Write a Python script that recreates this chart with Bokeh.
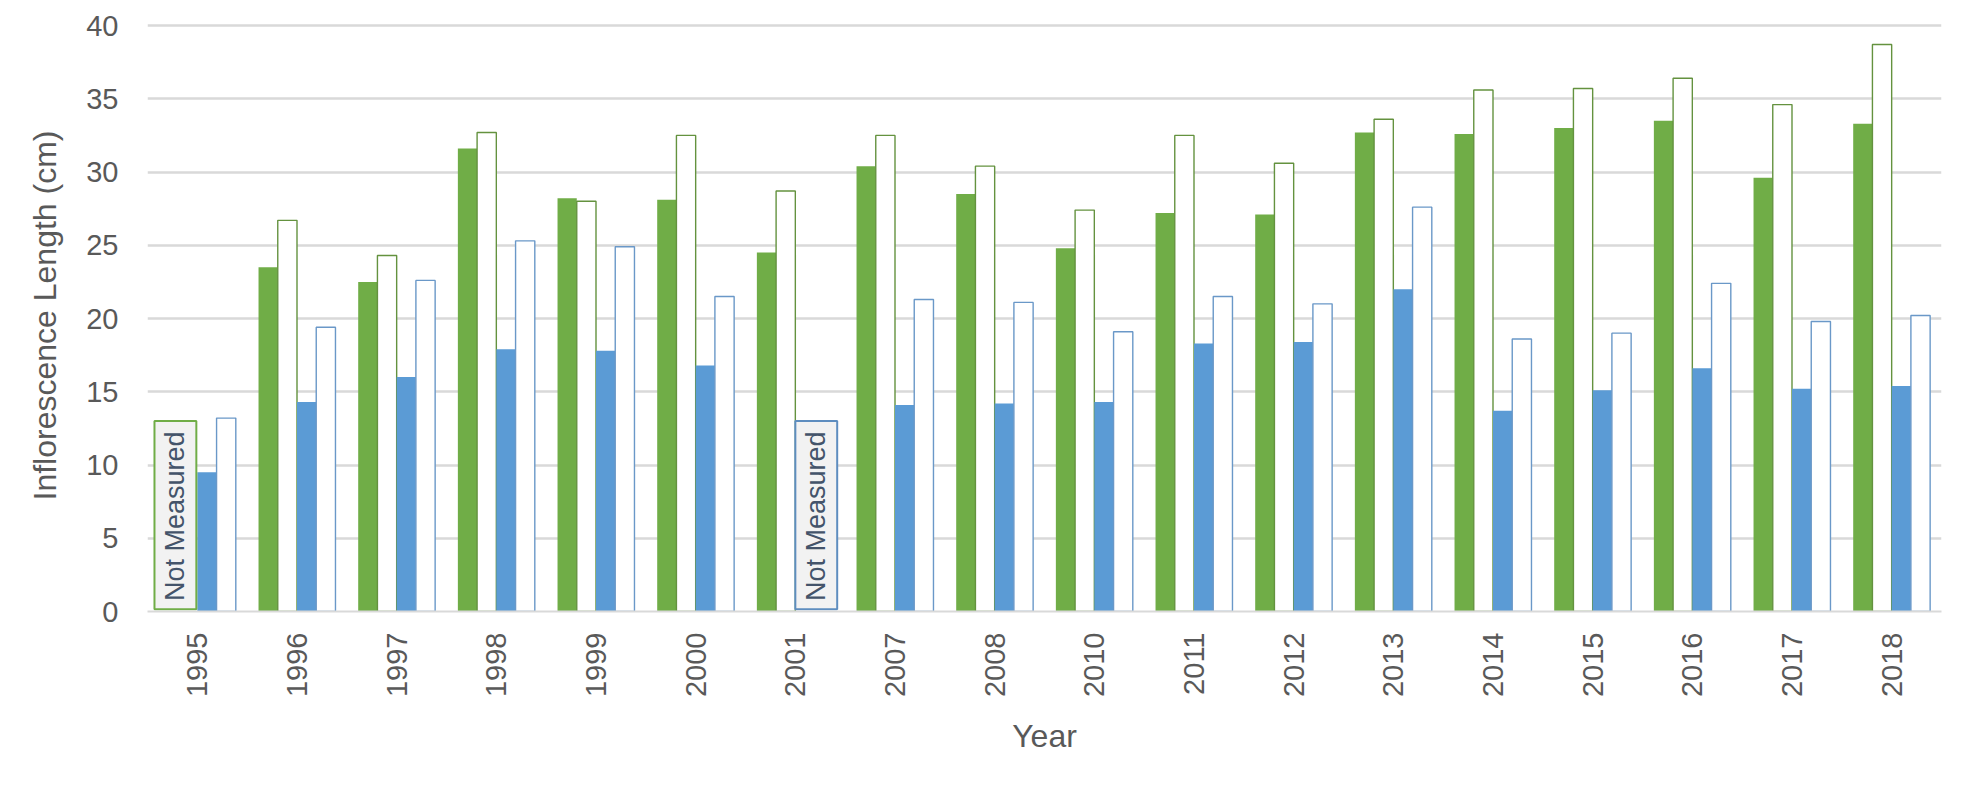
import math
from bokeh.plotting import figure
from bokeh.models import ColumnDataSource, FactorRange, Range1d, FixedTicker
from bokeh.transform import dodge
from bokeh.core.properties import value
from bokeh.embed import file_html
from bokeh.resources import INLINE

# ---- data ----
years = ["1995", "1996", "1997", "1998", "1999", "2000", "2001", "2007", "2008",
         "2010", "2011", "2012", "2013", "2014", "2015", "2016", "2017", "2018"]
green_filled = [None, 23.5, 22.5, 31.6, 28.2, 28.1, 24.5, 30.4, 28.5,
                24.8, 27.2, 27.1, 32.7, 32.6, 33.0, 33.5, 29.6, 33.3]
green_open = [None, 26.7, 24.3, 32.7, 28.0, 32.5, 28.7, 32.5, 30.4,
              27.4, 32.5, 30.6, 33.6, 35.6, 35.7, 36.4, 34.6, 38.7]
blue_filled = [9.5, 14.3, 16.0, 17.9, 17.8, 16.8, None, 14.1, 14.2,
               14.3, 18.3, 18.4, 22.0, 13.7, 15.1, 16.6, 15.2, 15.4]
blue_open = [13.2, 19.4, 22.6, 25.3, 24.9, 21.5, None, 21.3, 21.1,
             19.1, 21.5, 21.0, 27.6, 18.6, 19.0, 22.4, 19.8, 20.2]
y_ticks = [0, 5, 10, 15, 20, 25, 30, 35, 40]
not_measured_green_years = ["1995"]
not_measured_blue_years = ["2001"]
not_measured_text = "Not Measured"

GREEN = "#70AD47"
BLUE = "#5B9BD5"
TEXT = "#595959"
GRID = "#D9D9D9"
FONT = "Liberation Sans"


def src(vals):
    xs = [y for y, v in zip(years, vals) if v is not None]
    ts = [v for v in vals if v is not None]
    return ColumnDataSource(dict(year=xs, top=ts))


p = figure(
    x_range=FactorRange(*years, range_padding=0),
    y_range=Range1d(0, 40.41),
    width=1946, height=785,
    min_border_left=147, min_border_right=5,
    min_border_top=19, min_border_bottom=174,
    output_backend="svg", toolbar_location=None,
)
p.outline_line_color = None
p.background_fill_color = "white"

w = 0.193
offs = [-1.5 * w, -0.5 * w, 0.5 * w, 1.5 * w]

p.vbar(x=dodge("year", offs[0], range=p.x_range), top="top", width=w,
       source=src(green_filled), fill_color=GREEN, line_color=None)
p.vbar(x=dodge("year", offs[1], range=p.x_range), top="top", width=w,
       source=src(green_open), fill_color="white", line_color="#64923F", line_width=1.4)
p.vbar(x=dodge("year", offs[2], range=p.x_range), top="top", width=w,
       source=src(blue_filled), fill_color=BLUE, line_color=None)
p.vbar(x=dodge("year", offs[3], range=p.x_range), top="top", width=w,
       source=src(blue_open), fill_color="white", line_color="#6A98C8", line_width=1.4)

# "Not Measured" boxes
box_w = 0.42
box_top = 13.0
gsrc = ColumnDataSource(dict(year=not_measured_green_years,
                             label=[not_measured_text] * len(not_measured_green_years)))
bsrc = ColumnDataSource(dict(year=not_measured_blue_years,
                             label=[not_measured_text] * len(not_measured_blue_years)))
p.vbar(x=dodge("year", -box_w / 2 - 0.01, range=p.x_range), top=box_top, bottom=0.15,
       width=box_w, source=gsrc, fill_color="#F2F2F2", line_color=GREEN, line_width=2)
p.vbar(x=dodge("year", box_w / 2, range=p.x_range), top=box_top, bottom=0.15,
       width=box_w, source=bsrc, fill_color="#F2F2F2", line_color="#5E8DBF", line_width=2)
for s, off in ((gsrc, -box_w / 2 - 0.01), (bsrc, box_w / 2)):
    p.text(x=dodge("year", off, range=p.x_range), y=box_top / 2, text="label", source=s,
           angle=math.pi / 2, text_align="center", text_baseline="middle",
           text_font=value(FONT), text_font_size=value("27px"), text_color="#44546A")

# axes / grid
p.xgrid.grid_line_color = None
p.ygrid.grid_line_color = GRID
p.ygrid.grid_line_width = 2.5
p.yaxis.ticker = FixedTicker(ticks=y_ticks)

for ax in (p.xaxis[0], p.yaxis[0]):
    ax.major_tick_line_color = None
    ax.minor_tick_line_color = None
    ax.major_tick_out = 0
    ax.major_tick_in = 0
    ax.major_label_text_font = FONT
    ax.major_label_text_font_size = "29px"
    ax.major_label_text_color = TEXT
    ax.axis_label_text_font = FONT
    ax.axis_label_text_font_size = "32px"
    ax.axis_label_text_font_style = "normal"
    ax.axis_label_text_color = TEXT

p.yaxis.axis_line_color = None
p.yaxis.major_label_standoff = 29
p.yaxis.axis_label = "Inflorescence Length (cm)"
p.yaxis.axis_label_standoff = 20

p.xaxis.axis_line_color = GRID
p.xaxis.axis_line_width = 2
p.xaxis.major_label_orientation = math.pi / 2
p.xaxis.major_label_standoff = 21
p.xaxis.axis_label = "Year"
p.xaxis.axis_label_standoff = 18

open("out.html", "w").write(file_html(p, INLINE))
